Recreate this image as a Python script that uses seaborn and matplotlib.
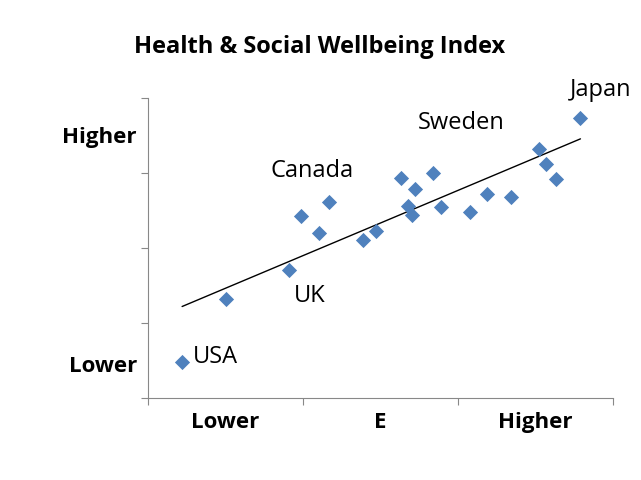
import matplotlib
matplotlib.use("Agg")
import matplotlib.pyplot as plt
import seaborn as sns
import numpy as np
import pandas as pd

x_vals = [0.22,0.50,0.91,0.99,1.10,1.17,1.39,1.47,1.63,1.68,1.72,1.70,1.84,1.89,2.08,2.19,2.34,2.52,2.57,2.63,2.79]
y_vals = [0.48,1.32,1.71,2.43,2.20,2.61,2.11,2.23,2.93,2.56,2.79,2.44,3.00,2.55,2.48,2.72,2.68,3.32,3.12,2.92,3.73]
labels = ["USA","UK","Canada","Sweden","Japan"]
label_pos = [(0.29,0.55),(0.94,1.36),(0.79,3.03),(1.74,3.67),(2.72,4.11)]
x_ticklabels = ["Lower","E","Higher"]
y_ticklabels = ["Lower","Higher"]
title = "Health & Social Wellbeing Index"

df = pd.DataFrame({"x": x_vals, "y": y_vals})
sns.set_style("ticks")
plt.rcParams['font.family'] = ['Open Sans', 'DejaVu Sans']
plt.rcParams['text.color'] = 'black'
fig = plt.figure(figsize=(6.41, 4.8), dpi=100)
ax = fig.add_axes([148/641, 82/480, 465/641, 300/480])
sns.regplot(data=df, x="x", y="y", ci=None, ax=ax, marker="D",
            scatter_kws=dict(s=60, color="#4F81BD", zorder=3, linewidths=0, alpha=1),
            line_kws=dict(color="black", lw=1, zorder=2))
ax.set_xlim(0, 3); ax.set_ylim(0, 4)
ax.set_xticks([0,1,2,3]); ax.set_xticklabels([])
ax.set_yticks([0,1,2,3,4]); ax.set_yticklabels([])
ax.set_xticks([0.5,1.5,2.5], minor=True)
ax.set_xticklabels(x_ticklabels, minor=True, fontsize=16, fontweight="bold", color="black")
ax.set_yticks([0.45,3.5], minor=True)
ax.set_yticklabels(y_ticklabels, minor=True, fontsize=16, fontweight="bold", color="black")
ax.tick_params(axis="both", which="minor", length=0, pad=8)
ax.tick_params(axis="both", which="major", length=5, color="#888888", direction="out")
ax.tick_params(axis="x", which="minor", pad=10)
ax.set_xlabel(""); ax.set_ylabel("")
for s in ["top","right"]:
    ax.spines[s].set_visible(False)
for s in ["left","bottom"]:
    ax.spines[s].set_color("#888888")
for t, (px, py) in zip(labels, label_pos):
    ax.text(px, py, t, fontsize=17, ha="left", va="center", color="black")
fig.text(320/641, 1-47/480, title, ha="center", va="center", fontsize=17, fontweight="bold", color="black")
fig.savefig("out.png", dpi=100)
